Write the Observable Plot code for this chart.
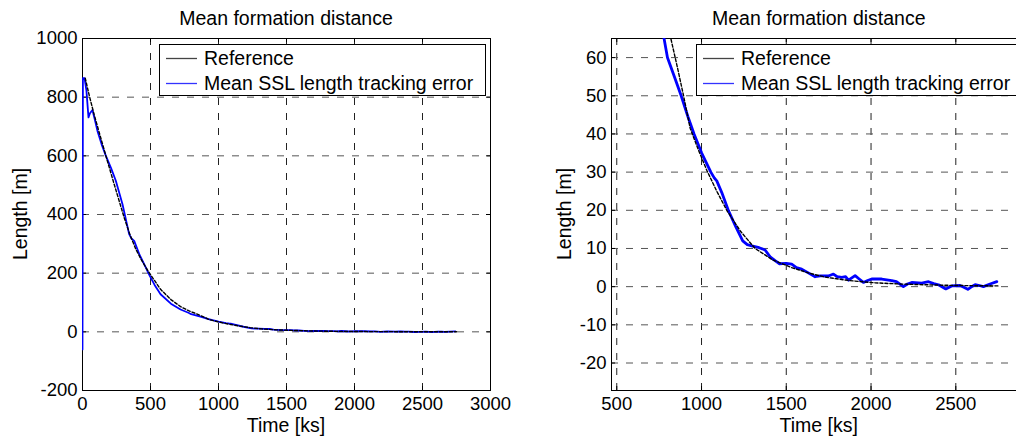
<!DOCTYPE html>
<html><head><meta charset="utf-8">
<script src="https://cdn.jsdelivr.net/npm/d3@7"></script>
<script src="https://cdn.jsdelivr.net/npm/@observablehq/plot@0.6"></script>
<style>
body{margin:0;background:#fff;overflow:hidden;}
#wrap{position:relative;width:1016px;height:436px;overflow:hidden;background:#fff;}
#wrap svg{position:absolute;top:0;}
</style></head><body><div id="wrap"></div>
<script>
const chartTitle = "Mean formation distance";
const xLabel = "Time [ks]";
const yLabel = "Length [m]";
const seriesNames = ["Reference", "Mean SSL length tracking error"];

const refTime   = [20, 50, 86, 130, 172, 233, 306, 350, 392, 430, 466, 500, 574, 650, 721, 780, 819, 860, 894, 933, 980, 1031, 1090, 1149, 1230, 1316, 1420, 1532, 1630, 1729, 1870, 2024, 2170, 2319, 2500, 2750];
const refLength = [865, 805, 740, 668, 600, 503, 390, 330, 282, 248, 219, 195, 145, 110, 86, 72, 65, 57, 50, 41.5, 36, 30.5, 25, 20, 14.5, 10, 7, 5, 3.6, 2.5, 1.6, 1, 0.7, 0.5, 0.3, 0.2];

const errTime   = [0, 3, 15, 29, 44, 55, 73, 90, 110, 140, 172, 210, 245, 294, 343, 360, 380, 420, 466, 488, 530, 574, 650, 721, 779, 799, 840, 880, 920, 956, 1001, 1055, 1075, 1090, 1119, 1159, 1204, 1243, 1270, 1296, 1340, 1375, 1405, 1434, 1460, 1500, 1532, 1560, 1591, 1630, 1670, 1700, 1749, 1778, 1800, 1827, 1850, 1867, 1906, 1930, 1955, 1980, 2004, 2063, 2122, 2150, 2191, 2215, 2240, 2299, 2339, 2370, 2398, 2441, 2476, 2525, 2550, 2571, 2590, 2614, 2640, 2663, 2702, 2742];
const errLength = [-60, 865, 865, 822, 731, 745, 756, 725, 685, 640, 600, 558, 515, 435, 333, 318, 310, 262, 219, 197, 160, 128, 96, 76, 65, 60, 55, 50, 44.5, 40, 35, 30, 28.5, 27.7, 24.7, 19.9, 15.5, 12, 11, 10.7, 10.2, 9.6, 7.8, 6.8, 6.0, 6.1, 5.9, 5.0, 4.6, 3.6, 2.6, 2.8, 2.8, 3.3, 2.6, 2.4, 2.6, 1.7, 2.9, 2.0, 1.1, 1.6, 2.0, 2.0, 1.6, 1.3, 0, 0.7, 1.1, 0.9, 1.3, 0.8, 0.5, -0.6, 0.2, 0.3, -0.2, -0.7, -0.1, 0.5, 0.3, 0, 0.7, 1.3];

const leftXTicks  = [0, 500, 1000, 1500, 2000, 2500, 3000];
const leftYTicks  = [-200, 0, 200, 400, 600, 800, 1000];
const rightXTicks = [500, 1000, 1500, 2000, 2500];
const rightYTicks = [-20, -10, 0, 10, 20, 30, 40, 50, 60];
const leftXDomain  = [0, 3000];
const leftYDomain  = [-200, 1000];
const rightXDomain = [469, 2920];
const rightYDomain = [-27.2, 65];

const FONT = "'Liberation Sans', Arial, Helvetica, sans-serif";

function panel({xDomain, yDomain, xTicks, yTicks, width, marginLeft, marginRight, lineW, left, legendX, legendW, yLabelX}) {
  const height = 436, marginTop = 38, marginBottom = 46;
  const fw = width - marginLeft - marginRight, fh = height - marginTop - marginBottom;
  const ref = refTime.map((t, i) => ({t, v: refLength[i]}));
  const err = errTime.map((t, i) => ({t, v: errLength[i]}));
  const tk = 4;
  const plot = Plot.plot({
    width, height, marginTop, marginBottom, marginLeft, marginRight,
    style: {background: "transparent", overflow: "visible", fontFamily: FONT, fontSize: "18.5px", color: "#000", maxWidth: "none"},
    x: {domain: xDomain},
    y: {domain: yDomain},
    marks: [
      Plot.gridX(xTicks, {stroke: "#222", strokeOpacity: 1, strokeDasharray: "7,8"}),
      Plot.gridY(yTicks, {stroke: "#555", strokeOpacity: 1, strokeDasharray: "7,8"}),
      Plot.tickX(xTicks, {x: d => d, insetTop: fh - tk, stroke: "#000"}),
      Plot.tickX(xTicks, {x: d => d, insetBottom: fh - tk, stroke: "#000"}),
      Plot.tickY(yTicks, {y: d => d, insetRight: fw - tk, stroke: "#000"}),
      Plot.tickY(yTicks, {y: d => d, insetLeft: fw - tk, stroke: "#000"}),
      Plot.frame({stroke: "#000"}),
      Plot.line(err, {x: "t", y: "v", stroke: "#0000ff", strokeWidth: lineW, clip: true}),
      Plot.line(ref, {x: "t", y: "v", stroke: "#000", strokeWidth: 1.4, strokeDasharray: "3,2", clip: true}),
      Plot.axisX(xTicks, {tickSize: 0, tickPadding: 6, label: null, tickFormat: d => String(d)}),
      Plot.axisY(yTicks, {tickSize: 0, tickPadding: 5, label: null, tickFormat: d => String(d)})
    ]
  });
  plot.style.left = left + "px";
  const svg = d3.select(plot);
  const cx = marginLeft + fw / 2;
  svg.append("text").attr("x", cx).attr("y", 25).attr("text-anchor", "middle")
    .attr("font-family", FONT).attr("font-size", 19.5).attr("fill", "#000").text(chartTitle);
  svg.append("text").attr("x", cx).attr("y", 432).attr("text-anchor", "middle")
    .attr("font-family", FONT).attr("font-size", 19.5).attr("fill", "#000").text(xLabel);
  svg.append("text").attr("transform", `translate(${yLabelX},${marginTop + fh / 2}) rotate(-90)`)
    .attr("text-anchor", "middle").attr("font-family", FONT).attr("font-size", 19.5).attr("fill", "#000").text(yLabel);
  const g = svg.append("g").attr("text-anchor", "start");
  g.append("rect").attr("x", legendX + 0.5).attr("y", 44.5).attr("width", legendW).attr("height", 51)
    .attr("fill", "#fff").attr("stroke", "#000").attr("stroke-width", 1);
  const rows = [{name: seriesNames[0], color: "#444", y: 58.5}, {name: seriesNames[1], color: "#3333ff", y: 83.5}];
  for (const r of rows) {
    g.append("line").attr("x1", legendX + 7).attr("x2", legendX + 38).attr("y1", r.y).attr("y2", r.y)
      .attr("stroke", r.color).attr("stroke-width", 1.3);
    g.append("text").attr("x", legendX + 45).attr("y", r.y + 6.9).attr("text-anchor", "start").attr("font-family", FONT)
      .attr("font-size", 19.5).attr("fill", "#000").text(r.name);
  }
  return plot;
}

const wrap = document.getElementById("wrap");
wrap.appendChild(panel({xDomain: leftXDomain, yDomain: leftYDomain, xTicks: leftXTicks, yTicks: leftYTicks,
  width: 508, marginLeft: 82, marginRight: 18, lineW: 1.8, left: 0, legendX: 159, legendW: 326, yLabelX: 27}));
wrap.appendChild(panel({xDomain: rightXDomain, yDomain: rightYDomain, xTicks: rightXTicks, yTicks: rightYTicks,
  width: 530, marginLeft: 103, marginRight: 11.5, lineW: 2.8, left: 508, legendX: 188, legendW: 326, yLabelX: 62.7}));
</script></body></html>
